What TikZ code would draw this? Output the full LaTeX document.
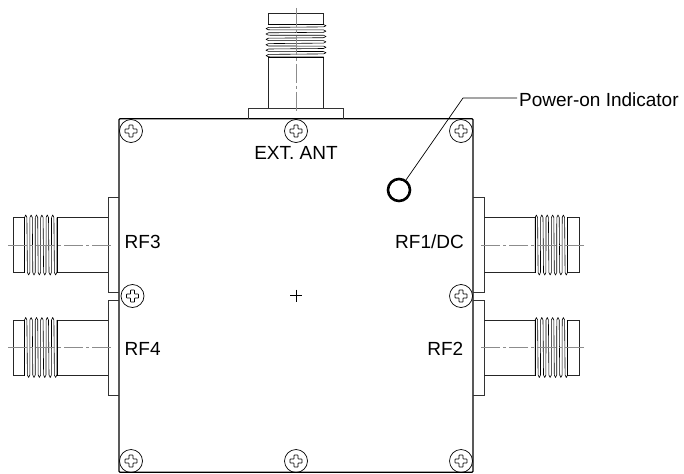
\documentclass[tikz,border=0pt]{standalone}
\usepackage{fontspec}
\setmainfont{Liberation Sans}
\tikzset{
  panel/.style={rectangle, draw=black, line width=1.2pt, rounded corners=1pt, minimum width=354pt, minimum height=353.5pt, inner sep=0pt},
  lbl/.style={inner sep=0pt, font=\fontsize{19pt}{22pt}\selectfont},
  axisline/.style={draw=black!45, line width=0.7pt, dash pattern=on 19pt off 3pt on 3pt off 3pt},
  rfport/.pic={
    \draw[line width=0.8pt, black!80] (0,-47.5) -- (-11,-47.5) -- (-11,47.5) -- (0,47.5);
    \draw[line width=0.9pt, black!85] (-62,-27.5) -- (-11,-27.5) (-62,27.5) -- (-11,27.5);
    \draw[line width=0.9pt, black!85] (-94.5,-27.5) -- (-106,-27.5) -- (-106,27.5) -- (-94.5,27.5);
    \draw[line width=0.8pt] (-94.5,-28) -- (-94.5,28) (-62,-28) -- (-62,28);
    \foreach \t in {-94.5,-89.1,-83.7,-78.3,-72.9,-67.5} {
      \draw[line width=0.6pt, line join=round] (\t,-27.5) -- (\t+1.2,-30) -- (\t+2.4,-27.5) -- (\t+2.9,27.5) -- (\t+4.1,30) -- (\t+5.3,27.5) -- (\t+5.4,-27.5);
    }
    \draw[axisline] (-111,0) -- (-7,0);
  },
  screw/.pic={
    \draw[line width=0.7pt] (0,0) circle (11.5);
    \draw[line width=0.7pt, rounded corners=0.5pt] (-2,-6) -- (2,-6) -- (2,-2) -- (6,-2) -- (6,2) -- (2,2) -- (2,6) -- (-2,6) -- (-2,2) -- (-6,2) -- (-6,-2) -- (-2,-2) -- cycle;
  }
}
\begin{document}
\begin{tikzpicture}[x=1pt, y=-1pt]
\useasboundingbox (0,0) rectangle (684,473);

% Корпус
\node (housing) [panel] at (296,295.5) {};
\draw[line width=0.8pt] (290,295.7) -- (302,295.7) (296,289.7) -- (296,301.7);

% Разъемы
\pic [rotate=-90] at (296,119) {rfport};
\pic at (119,245) {rfport};
\pic at (119,347.5) {rfport};
\pic [rotate=180] at (473,245) {rfport};
\pic [rotate=180] at (473,347.5) {rfport};

% Винты
\foreach \sx/\sy in {131/131, 296/131, 461/131, 132.5/296, 461/296, 131/461, 296/461, 461/461} {
  \pic at (\sx,\sy) {screw};
}

% Подписи
\node (extant) [lbl] at (296,152.5) {EXT. ANT};
\node (rfthree) [lbl, anchor=west] at (124.5,241.7) {RF3};
\node (rffour) [lbl, anchor=west] at (124.5,348.5) {RF4};
\node (rfone) [lbl, anchor=east] at (464,241.7) {RF1/DC};
\node (rftwo) [lbl, anchor=east] at (463.5,349) {RF2};

% Индикатор
\node (led) [circle, draw=black, line width=2.6pt, minimum size=22pt, inner sep=0pt] at (399,190) {};
\coordinate (elbow) at (463,98);
\node (ledlabel) [lbl, anchor=west, inner sep=2pt] at (517,99.5) {Power-on Indicator};
\draw[line width=0.7pt] (led) -- (elbow) -- (elbow -| ledlabel.west);

\end{tikzpicture}
\end{document}
